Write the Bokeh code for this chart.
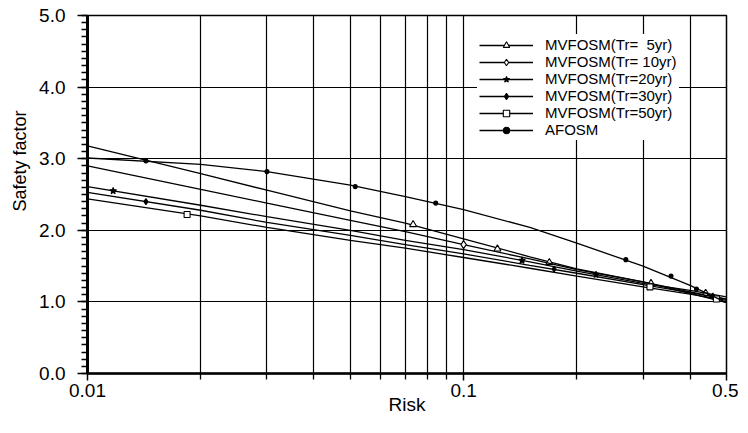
import numpy as np
from bokeh.plotting import figure
from bokeh.models import (FixedTicker, PrintfTickFormatter, Legend, LegendItem,
                          Title, Range1d)
from bokeh.embed import file_html
from bokeh.resources import INLINE

# ---------------- data ----------------
risk = [0.01, 0.02, 0.03, 0.05, 0.07, 0.1, 0.15, 0.2, 0.3, 0.4, 0.5]

sf_5yr = [3.18, 2.79, 2.56, 2.27, 2.10, 1.88, 1.63, 1.46, 1.28, 1.12, 0.99]
sf_10yr = [2.90, 2.57, 2.38, 2.14, 1.98, 1.80, 1.60, 1.45, 1.28, 1.14, 1.04]
sf_20yr = [2.61, 2.35, 2.19, 2.00, 1.86, 1.73, 1.56, 1.43, 1.26, 1.16, 1.07]
sf_30yr = [2.53, 2.28, 2.11, 1.93, 1.80, 1.67, 1.51, 1.40, 1.24, 1.13, 1.04]
sf_50yr = [2.44, 2.20, 2.04, 1.86, 1.75, 1.62, 1.47, 1.36, 1.21, 1.11, 1.02]
sf_afosm = [3.01, 2.92, 2.82, 2.63, 2.47, 2.29, 2.04, 1.82, 1.50, 1.23, 0.99]

# marker positions along each curve
mk5_x = [0.0734, 0.123, 0.169, 0.315]
mk5_y = [2.08, 1.74, 1.55, 1.26]
mk10_x = [0.1, 0.44]
mk10_y = [1.80, 1.12]
mk20_x = [0.0117, 0.143, 0.225]
mk20_y = [2.55, 1.58, 1.38]
mk30_x = [0.0143, 0.174, 0.46]
mk30_y = [2.40, 1.46, 1.08]
mk50_x = [0.0184, 0.313, 0.47]
mk50_y = [2.22, 1.21, 1.04]
mka_x = [0.0143, 0.03, 0.0515, 0.0843, 0.27, 0.356, 0.416]
mka_y = [2.97, 2.82, 2.61, 2.38, 1.59, 1.36, 1.18]

labels = ["MVFOSM(Tr=  5yr)", "MVFOSM(Tr= 10yr)", "MVFOSM(Tr=20yr)",
          "MVFOSM(Tr=30yr)", "MVFOSM(Tr=50yr)", "AFOSM"]

x_major = [0.01, 0.1, 0.5]
x_minor = [0.02, 0.03, 0.04, 0.05, 0.06, 0.07, 0.08, 0.09, 0.2, 0.3, 0.4]
y_major = [0, 1, 2, 3, 4, 5]
y_minor = [round(v, 1) for v in np.arange(0, 5.01, 0.1)]

FONT = "Liberation Sans, Arial, sans-serif"

p = figure(width=738, height=417, x_axis_type="log",
           x_range=Range1d(0.01, 0.5), y_range=Range1d(0, 5),
           output_backend="svg", toolbar_location=None,
           min_border_left=86, min_border_right=12, min_border_top=15,
           min_border_bottom=42)

p.outline_line_color = "black"
p.outline_line_width = 1.5
p.background_fill_color = "white"
p.border_fill_color = "white"

xa = p.xaxis[0]
xa.ticker = FixedTicker(ticks=x_major, minor_ticks=x_minor)
xa.formatter = PrintfTickFormatter(format="%g")
xa.axis_line_width = 2.5
xa.major_tick_out = 7
xa.major_tick_in = 0
xa.minor_tick_out = 6
xa.minor_tick_in = 0
xa.major_tick_line_width = 1.5
xa.minor_tick_line_width = 1.3
xa.major_label_standoff = 3
xa.major_label_text_font = FONT
xa.major_label_text_font_size = "19px"
xa.major_label_text_color = "black"
xa.axis_label = "Risk"
xa.axis_label_standoff = -6
xa.axis_label_text_font = FONT
xa.axis_label_text_font_size = "19px"
xa.axis_label_text_font_style = "normal"
xa.axis_label_text_color = "black"

ya = p.yaxis[0]
ya.ticker = FixedTicker(ticks=y_major, minor_ticks=y_minor)
ya.formatter = PrintfTickFormatter(format="%.1f")
ya.axis_line_width = 3
ya.major_tick_out = 10
ya.major_tick_in = 0
ya.minor_tick_out = 6
ya.minor_tick_in = 0
ya.major_tick_line_width = 1.5
ya.minor_tick_line_width = 1.3
ya.major_label_standoff = 12
ya.major_label_text_font = FONT
ya.major_label_text_font_size = "19px"
ya.major_label_text_color = "black"

p.xgrid.ticker = FixedTicker(ticks=x_major, minor_ticks=x_minor)
p.xgrid.grid_line_color = "black"
p.xgrid.grid_line_width = 1.2
p.xgrid.minor_grid_line_color = "black"
p.xgrid.minor_grid_line_width = 1.2
p.ygrid.ticker = FixedTicker(ticks=y_major)
p.ygrid.grid_line_color = "black"
p.ygrid.grid_line_width = 1.2

series = [
    (sf_5yr, mk5_x, mk5_y, "triangle", "white", 7),
    (sf_10yr, mk10_x, mk10_y, "diamond", "white", 8),
    (sf_20yr, mk20_x, mk20_y, "star", "black", 7),
    (sf_30yr, mk30_x, mk30_y, "diamond", "black", 6),
    (sf_50yr, mk50_x, mk50_y, "square", "white", 6),
    (sf_afosm, mka_x, mka_y, "circle", "black", 4),
]

items = []
for (sf, mx, my, mk, fc, sz), lab in zip(series, labels):
    lr = p.line(risk, sf, line_color="black", line_width=1.3)
    sr = p.scatter(mx, my, marker=mk, size=sz, fill_color=fc,
                   line_color="black", line_width=1.1)
    items.append(LegendItem(label=lab, renderers=[lr, sr]))

legend = Legend(items=items, location=(390, 233), glyph_width=54,
                glyph_height=16, label_height=16, spacing=0, padding=2,
                margin=0, label_standoff=12, border_line_alpha=0,
                background_fill_color="white", background_fill_alpha=1,
                label_text_font=FONT, label_text_font_size="15px",
                label_text_color="black")
p.add_layout(legend)

ytitle = Title(text="Safety factor", align="right", offset=95, standoff=14,
               text_font=FONT, text_font_size="18px",
               text_font_style="normal", text_color="black")
p.add_layout(ytitle, "left")

open("out.html", "w").write(file_html(p, INLINE))
